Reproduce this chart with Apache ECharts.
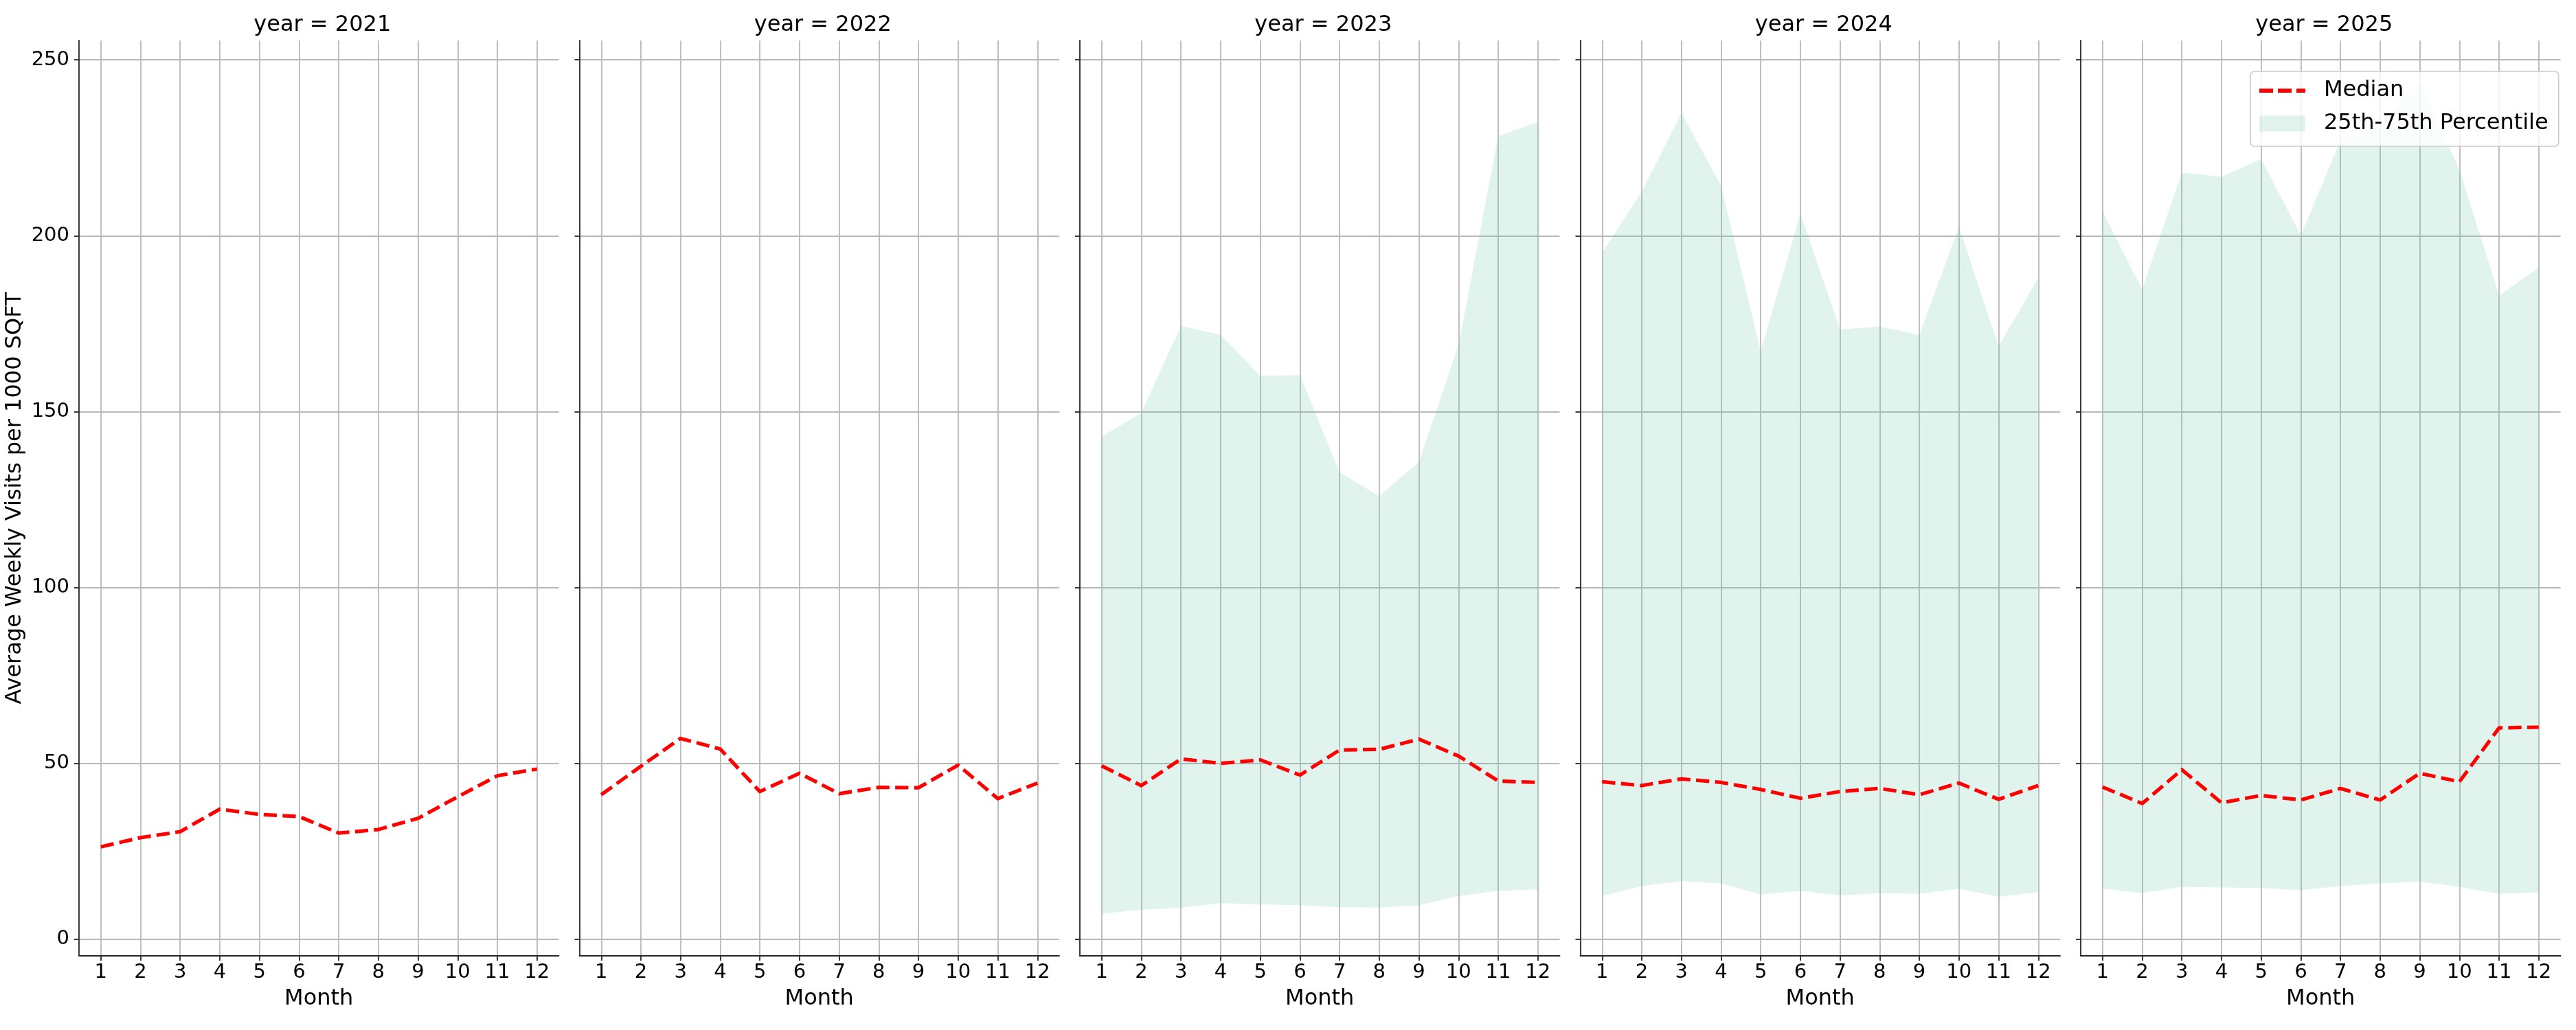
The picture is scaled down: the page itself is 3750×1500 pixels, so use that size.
<!DOCTYPE html>
<html>
<head>
<meta charset="utf-8">
<script src="https://cdn.jsdelivr.net/npm/echarts@6/dist/echarts.min.js"></script>
<style>
html, body { margin: 0; padding: 0; background: #fff; }
#chart { width: 3750px; height: 1500px; }
</style>
</head>
<body>
<div id="chart"></div>
<script>
var months = [1, 2, 3, 4, 5, 6, 7, 8, 9, 10, 11, 12]
var years = [2021, 2022, 2023, 2024, 2025]
var yTicks = [0, 50, 100, 150, 200, 250]

// median per month
var median2021 = [26.3, 28.9, 30.6, 37.0, 35.5, 34.9, 30.2, 31.2, 34.4, 40.5, 46.5, 48.4]
var median2022 = [41.1, 49.2, 57.1, 54.1, 42.0, 47.2, 41.4, 43.2, 43.1, 49.5, 40.0, 44.4]
var median2023 = [49.3, 43.7, 51.3, 50.0, 51.0, 46.7, 53.8, 54.0, 56.9, 52.1, 45.0, 44.6]
var median2024 = [44.8, 43.7, 45.6, 44.6, 42.6, 40.1, 42.0, 42.9, 41.1, 44.4, 39.8, 43.7]
var median2025 = [43.3, 38.6, 48.2, 38.8, 40.9, 39.6, 42.9, 39.6, 47.2, 44.8, 60.1, 60.3]

// 25th / 75th percentile (no band for 2021, 2022)
var p25_2021 = []
var p75_2021 = []
var p25_2022 = []
var p75_2022 = []
var p25_2023 = [7.3, 8.4, 9.0, 10.3, 9.9, 9.7, 9.1, 9.0, 9.7, 12.3, 13.8, 14.2]
var p75_2023 = [142.8, 149.7, 174.4, 171.8, 160.2, 160.4, 132.7, 126.0, 135.7, 169.0, 228.3, 232.3]
var p25_2024 = [12.3, 15.1, 16.6, 15.9, 12.7, 13.8, 12.5, 13.1, 12.9, 14.4, 12.1, 13.4]
var p75_2024 = [195.1, 212.5, 234.9, 214.2, 167.1, 206.3, 173.3, 174.2, 171.8, 202.6, 168.6, 188.0]
var p25_2025 = [14.4, 13.1, 14.9, 14.7, 14.6, 14.0, 15.1, 15.9, 16.4, 14.9, 12.9, 13.3]
var p75_2025 = [206.9, 184.8, 217.9, 216.8, 221.8, 200.1, 227.0, 232.0, 243.7, 218.8, 183.0, 191.0]

var medians = [median2021, median2022, median2023, median2024, median2025]
var lows = [p25_2021, p25_2022, p25_2023, p25_2024, p25_2025]
var highs = [p75_2021, p75_2022, p75_2023, p75_2024, p75_2025]

var font = 'DejaVu Sans'
var bandColor = 'rgba(102,194,165,0.2)'
var spine = '#262626'
var gridCol = '#b8b8b8'
var panelLeft = [115, 843.5, 1572, 2300.5, 3029]
var panelWidth = 698.5

var chart = echarts.init(document.getElementById('chart'), null, {renderer: 'canvas', width: 3750, height: 1500})

function pairs(ys){
    return ys.map(function(v, i){ return [months[i], v] })
}

// one polygon per panel: along p75, back along p25
function bandRenderer(lo, hi){
    return function(params, api){
        if (params.dataIndex !== 0) return
        var pts = []
        for (var k = 0; k < hi.length; k++) pts.push(api.coord([months[k], hi[k]]))
        for (var k = lo.length - 1; k >= 0; k--) pts.push(api.coord([months[k], lo[k]]))
        return {type: 'polygon', shape: {points: pts}, style: {fill: bandColor}, silent: true}
    }
}

var grids = [], xAxes = [], yAxes = [], titles = [], series = []
years.forEach(function(yr, i){
    grids.push({left: panelLeft[i], width: panelWidth, top: 59, bottom: 108, outerBoundsMode: 'none'})
    titles.push({
        text: 'year = ' + yr,
        left: panelLeft[i] + panelWidth / 2,
        textAlign: 'center',
        top: 16,
        textStyle: {fontFamily: font, fontSize: 32, fontWeight: 'normal', color: '#000'}
    })
    xAxes.push({
        gridIndex: i, type: 'value', min: 0.45, max: 12.55,
        name: 'Month', nameLocation: 'middle', nameGap: 47,
        nameTextStyle: {fontFamily: font, fontSize: 32, color: '#000'},
        axisLine: {onZero: false, lineStyle: {color: spine, width: 1.8}},
        axisTick: {customValues: months, length: 7, lineStyle: {color: spine, width: 1.8}},
        axisLabel: {customValues: months, fontFamily: font, fontSize: 29, color: '#000', margin: 10},
        splitLine: {show: true, lineStyle: {color: gridCol, width: 1.8}}
    })
    yAxes.push({
        gridIndex: i, type: 'value', min: -4.7, max: 255.5,
        name: i === 0 ? 'Average Weekly Visits per 1000 SQFT' : '',
        nameLocation: 'middle', nameRotate: 90, nameGap: 77,
        nameTextStyle: {fontFamily: font, fontSize: 32, color: '#000'},
        axisLine: {show: true, onZero: false, lineStyle: {color: spine, width: 1.8}},
        axisTick: {show: true, customValues: yTicks, length: 7, lineStyle: {color: spine, width: 1.8}},
        axisLabel: {show: i === 0, customValues: yTicks, fontFamily: font, fontSize: 29, color: '#000', margin: 14},
        splitLine: {show: true, lineStyle: {color: gridCol, width: 1.8}}
    })
    series.push({
        name: '25th-75th Percentile', type: 'custom', xAxisIndex: i, yAxisIndex: i,
        data: lows[i].map(function(v, k){ return [months[k], v, highs[i][k]] }),
        encode: {x: 0, y: [1, 2]},
        itemStyle: {color: bandColor},
        renderItem: bandRenderer(lows[i], highs[i]),
        z: 1
    })
    series.push({
        name: 'Median', type: 'line', xAxisIndex: i, yAxisIndex: i,
        data: pairs(medians[i]), symbol: 'none', z: 3,
        itemStyle: {color: '#ff0000'},
        lineStyle: {color: '#ff0000', width: 5.2, type: [19.3, 8.3], cap: 'butt', join: 'round'}
    })
})

chart.setOption({
    animation: false,
    backgroundColor: '#fff',
    title: titles,
    grid: grids,
    xAxis: xAxes,
    yAxis: yAxes,
    legend: {
        data: [
            {name: 'Median', icon: 'path://M0,0H20V6H0ZM27,0H47V6H27ZM54,0H67V6H54Z', itemStyle: {color: '#ff0000', borderWidth: 0}},
            {name: '25th-75th Percentile', icon: 'rect', itemStyle: {color: bandColor, borderWidth: 0}}
        ],
        orient: 'vertical', left: 3276, top: 104,
        padding: [10, 15, 15, 13], itemGap: 12, itemWidth: 67, itemHeight: 23,
        backgroundColor: 'rgba(255,255,255,0.8)', borderColor: '#cccccc', borderWidth: 1.7, borderRadius: 6,
        textStyle: {fontFamily: font, fontSize: 32, color: '#000', lineHeight: 36, padding: [0, 0, 0, 22]},
        selectedMode: false
    },
    series: series
})
</script>
</body>
</html>
